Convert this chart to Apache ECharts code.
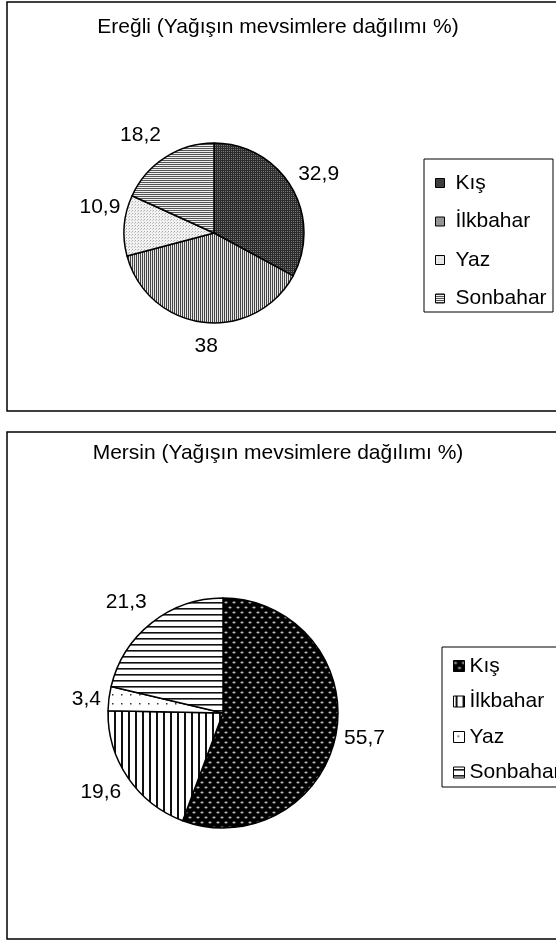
<!DOCTYPE html>
<html><head><meta charset="utf-8">
<script src="https://cdn.jsdelivr.net/npm/echarts@6/dist/echarts.min.js"></script>
<style>html,body{margin:0;padding:0;background:#fff;width:556px;height:940px;overflow:hidden}
#c1{position:absolute;left:0;top:0;width:556px;height:420px}
#c2{position:absolute;left:0;top:420px;width:556px;height:520px}</style>
</head><body><div id="c1"></div><div id="c2"></div>
<script>
const seasons = ['Kış', 'İlkbahar', 'Yaz', 'Sonbahar'];
const titleEregli = 'Ereğli (Yağışın mevsimlere dağılımı %)';
const titleMersin = 'Mersin (Yağışın mevsimlere dağılımı %)';
const eregliValues = [32.9, 38, 10.9, 18.2];
const mersinValues = [55.7, 19.6, 3.4, 21.3];

// label placement tweaks (style only, px)
const eregliLabelNudge = [[0, 0], [8, -2], [4, -16], [0, 0]];
const mersinLabelNudge = [[0, 0], [0, 0], [0, 4], [0, 0]];

const FONT = '"Liberation Sans", Arial, sans-serif';

function pat(w, h, draw) {
  const c = document.createElement('canvas');
  c.width = w; c.height = h;
  const g = c.getContext('2d');
  g.fillStyle = '#fff'; g.fillRect(0, 0, w, h);
  draw(g);
  return { image: c, repeat: 'repeat' };
}
const eregliPatterns = [
  pat(2, 2, g => { g.fillStyle = '#2c2c2c'; g.fillRect(0,0,2,2); g.fillStyle = '#777'; g.fillRect(1,1,1,1); }),
  pat(2, 2, g => { g.fillStyle = '#444'; g.fillRect(0,0,1,2); g.fillStyle = '#e6e6e6'; g.fillRect(1,0,1,2); }),
  pat(3, 3, g => { g.fillStyle = '#f2f2f2'; g.fillRect(0,0,3,3); g.fillStyle = '#aaa'; g.fillRect(0,0,1,1); g.fillStyle = '#c8c8c8'; g.fillRect(2,1,1,1); }),
  pat(2, 2, g => { g.fillStyle = '#555'; g.fillRect(0,0,2,1); g.fillStyle = '#eee'; g.fillRect(0,1,2,1); })
];
const mersinPatterns = [
  pat(8, 10, g => { g.fillStyle = '#000'; g.fillRect(0,0,8,10); g.fillStyle = '#bbb';
    g.beginPath(); g.ellipse(2, 2.5, 1.6, 1.1, 0, 0, Math.PI*2); g.fill();
    g.beginPath(); g.ellipse(6, 7.5, 1.6, 1.1, 0, 0, Math.PI*2); g.fill(); }),
  pat(7, 7, g => { g.fillStyle = '#111'; g.fillRect(2,0,2,7); }),
  pat(9, 9, g => { g.fillStyle = '#333'; g.fillRect(4,4,1.5,1.5); }),
  pat(6, 6, g => { g.fillStyle = '#111'; g.fillRect(0,2,6,1.6); })
];

function build(values, patterns, nudge, o) {
  const total = values.reduce((a, b) => a + b, 0);
  const mids = [];
  let acc = 0;
  values.forEach(v => { mids.push((acc + v / 2) / total * Math.PI * 2); acc += v; });
  const gap = 8;
  return {
    animation: false,
    title: { text: o.title, left: 'center', top: o.titleTop,
      textStyle: { fontFamily: FONT, fontSize: 21, fontWeight: 'normal', color: '#000' } },
    graphic: [
      { type: 'rect', shape: { x: 7, y: o.frameTop, width: 600, height: o.frameH },
        style: { fill: 'none', stroke: '#000', lineWidth: 1.5 }, z: -1 },
      { type: 'rect', shape: { x: o.legX, y: o.legTop, width: o.legW, height: o.legH },
        style: { fill: 'none', stroke: '#000', lineWidth: 1 }, z: -1 }
    ],
    legend: {
      orient: 'vertical', left: o.legItemX, top: o.legItemTop,
      itemWidth: o.icon, itemHeight: o.icon, itemGap: o.itemGap,
      icon: 'rect', data: seasons,
      itemStyle: { borderColor: '#000', borderWidth: 1 },
      textStyle: { fontFamily: FONT, fontSize: 21, color: '#000', lineHeight: 22,
        padding: [0, 0, 0, o.textPad] }
    },
    series: [{
      type: 'pie', center: o.center, radius: o.radius, clockwise: true, startAngle: 90,
      silent: true,
      itemStyle: { borderColor: '#000', borderWidth: 1.5 },
      label: { show: true, position: 'outside', formatter: p => String(p.value).replace('.', ','),
        fontFamily: FONT, fontSize: 21, color: '#000' },
      labelLine: { show: false, length: 6, length2: 0 },
      labelLayout: p => {
        const a = mids[p.dataIndex];
        const dx = Math.sin(a), dy = -Math.cos(a);
        const w = p.labelRect.width, h = p.labelRect.height;
        const px = o.center[0] + o.radius * dx, py = o.center[1] + o.radius * dy;
        const k = Math.max(-1, Math.min(1, dx * 3));
        const n = nudge[p.dataIndex];
        return {
          x: px + dx * gap + k * w / 2 + n[0],
          y: py + dy * gap + dy * h * 0.85 + n[1],
          align: 'center', verticalAlign: 'middle'
        };
      },
      data: seasons.map((s, i) => ({ name: s, value: values[i], itemStyle: { color: patterns[i] } }))
    }]
  };
}

const c1 = echarts.init(document.getElementById('c1'), null, { renderer: 'canvas' });
c1.setOption(build(eregliValues, eregliPatterns, eregliLabelNudge, {
  title: titleEregli, titleTop: 12, frameTop: 2, frameH: 409,
  legX: 424, legTop: 159, legW: 129, legH: 153,
  legItemX: 430, legItemTop: 167, icon: 9, itemGap: 16.5, textPad: 6,
  center: [214, 233], radius: 90
}));
const c2 = echarts.init(document.getElementById('c2'), null, { renderer: 'canvas' });
c2.setOption(build(mersinValues, mersinPatterns, mersinLabelNudge, {
  title: titleMersin, titleTop: 18, frameTop: 12, frameH: 507,
  legX: 442, legTop: 227, legW: 200, legH: 140,
  legItemX: 448, legItemTop: 230, icon: 11, itemGap: 13.5, textPad: 0,
  center: [223, 293], radius: 115
}));
</script></body></html>
